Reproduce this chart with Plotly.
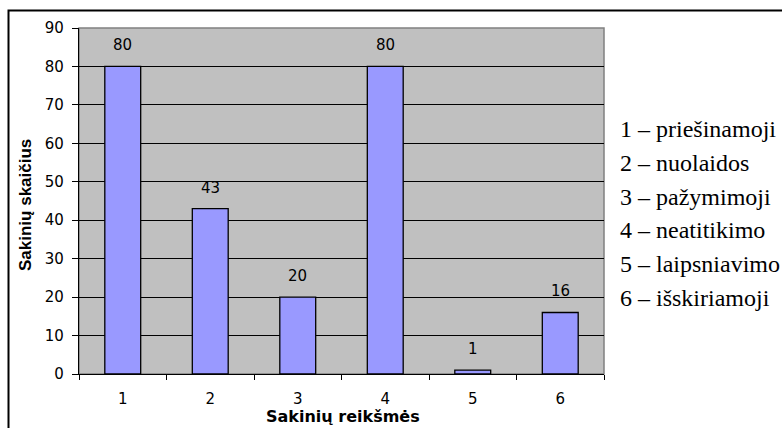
import plotly.graph_objects as go

# Sentence-type counts
categories = [1, 2, 3, 4, 5, 6]
counts = [80, 43, 20, 80, 1, 16]
legend_lines = [
    "1 – priešinamoji",
    "2 – nuolaidos",
    "3 – pažymimoji",
    "4 – neatitikimo",
    "5 – laipsniavimo",
    "6 – išskiriamoji",
]
y_ticks = list(range(0, 91, 10))

W, H = 782, 428
L, R, T, B = 79, 178, 28, 54
pw, ph = W - L - R, H - T - B

SANS = "DejaVu Sans"
SANS_B = "Liberation Sans"
SERIF = "Liberation Serif, Times New Roman, serif"

def px_to_paper_x(px):
    return (px - L) / pw

def px_to_paper_y(py):
    return (H - B - py) / ph

fig = go.Figure(
    go.Bar(
        x=categories,
        y=counts,
        marker=dict(color="#9999FF", line=dict(color="black", width=1.3)),
        width=0.41,
        hoverinfo="skip",
    )
)

annotations = []
# value labels above bars
for c, v in zip(categories, counts):
    annotations.append(dict(
        x=c, y=v, xref="x", yref="y", text=str(v), showarrow=False,
        yshift=21, font=dict(family=SANS, size=15, color="black"),
    ))

# explanatory list on the right
for i, t in enumerate(legend_lines):
    annotations.append(dict(
        x=px_to_paper_x(618), y=px_to_paper_y(129 + i * 33.8), xref="paper", yref="paper",
        text=t, showarrow=False, xanchor="left", yanchor="middle",
        font=dict(family=SERIF, size=24, color="black"),
    ))

# axis titles
annotations.append(dict(
    x=px_to_paper_x(25), y=px_to_paper_y(205), xref="paper", yref="paper",
    text="<b>Sakinių skaičius</b>", showarrow=False, textangle=-90,
    xanchor="center", yanchor="middle",
    font=dict(family=SANS_B, size=17, color="black"),
))
annotations.append(dict(
    x=px_to_paper_x(343), y=px_to_paper_y(417), xref="paper", yref="paper",
    text="<b>Sakinių reikšmės</b>", showarrow=False,
    xanchor="center", yanchor="middle",
    font=dict(family=SANS, size=16, color="black"),
))

shapes = [
    # outer frame
    dict(type="rect", xref="paper", yref="paper",
         x0=px_to_paper_x(8.5), x1=px_to_paper_x(W + 20),
         y0=px_to_paper_y(H + 20), y1=px_to_paper_y(10.5),
         line=dict(color="black", width=2), layer="below"),
    # plot-area border
    dict(type="rect", xref="paper", yref="paper", x0=0, x1=1, y0=0, y1=1,
         line=dict(color="#808080", width=1.5), layer="below"),
]

fig.update_layout(
    width=W, height=H,
    margin=dict(l=L, r=R, t=T, b=B),
    paper_bgcolor="white",
    plot_bgcolor="#C0C0C0",
    showlegend=False,
    annotations=annotations,
    shapes=shapes,
    font=dict(family=SANS, size=15, color="black"),
)
fig.update_xaxes(
    range=[0.5, 6.5], tickvals=categories, ticktext=[str(c) for c in categories],
    ticks="", showline=True, linecolor="black", linewidth=1.3,
    showgrid=False, zeroline=False, tickfont=dict(family=SANS, size=15),
    ticklabelstandoff=11,
    minor=dict(tick0=0.5, dtick=1, ticks="outside", ticklen=5, tickcolor="black",
               showgrid=False),
)
fig.update_yaxes(
    range=[0, 90], tickvals=y_ticks, ticks="outside", ticklen=6,
    tickcolor="black", showline=True, linecolor="black", linewidth=1.3,
    showgrid=True, gridcolor="black", gridwidth=1, zeroline=False,
    tickfont=dict(family=SANS, size=15), ticklabelstandoff=5,
)

fig.write_html("out.html")
